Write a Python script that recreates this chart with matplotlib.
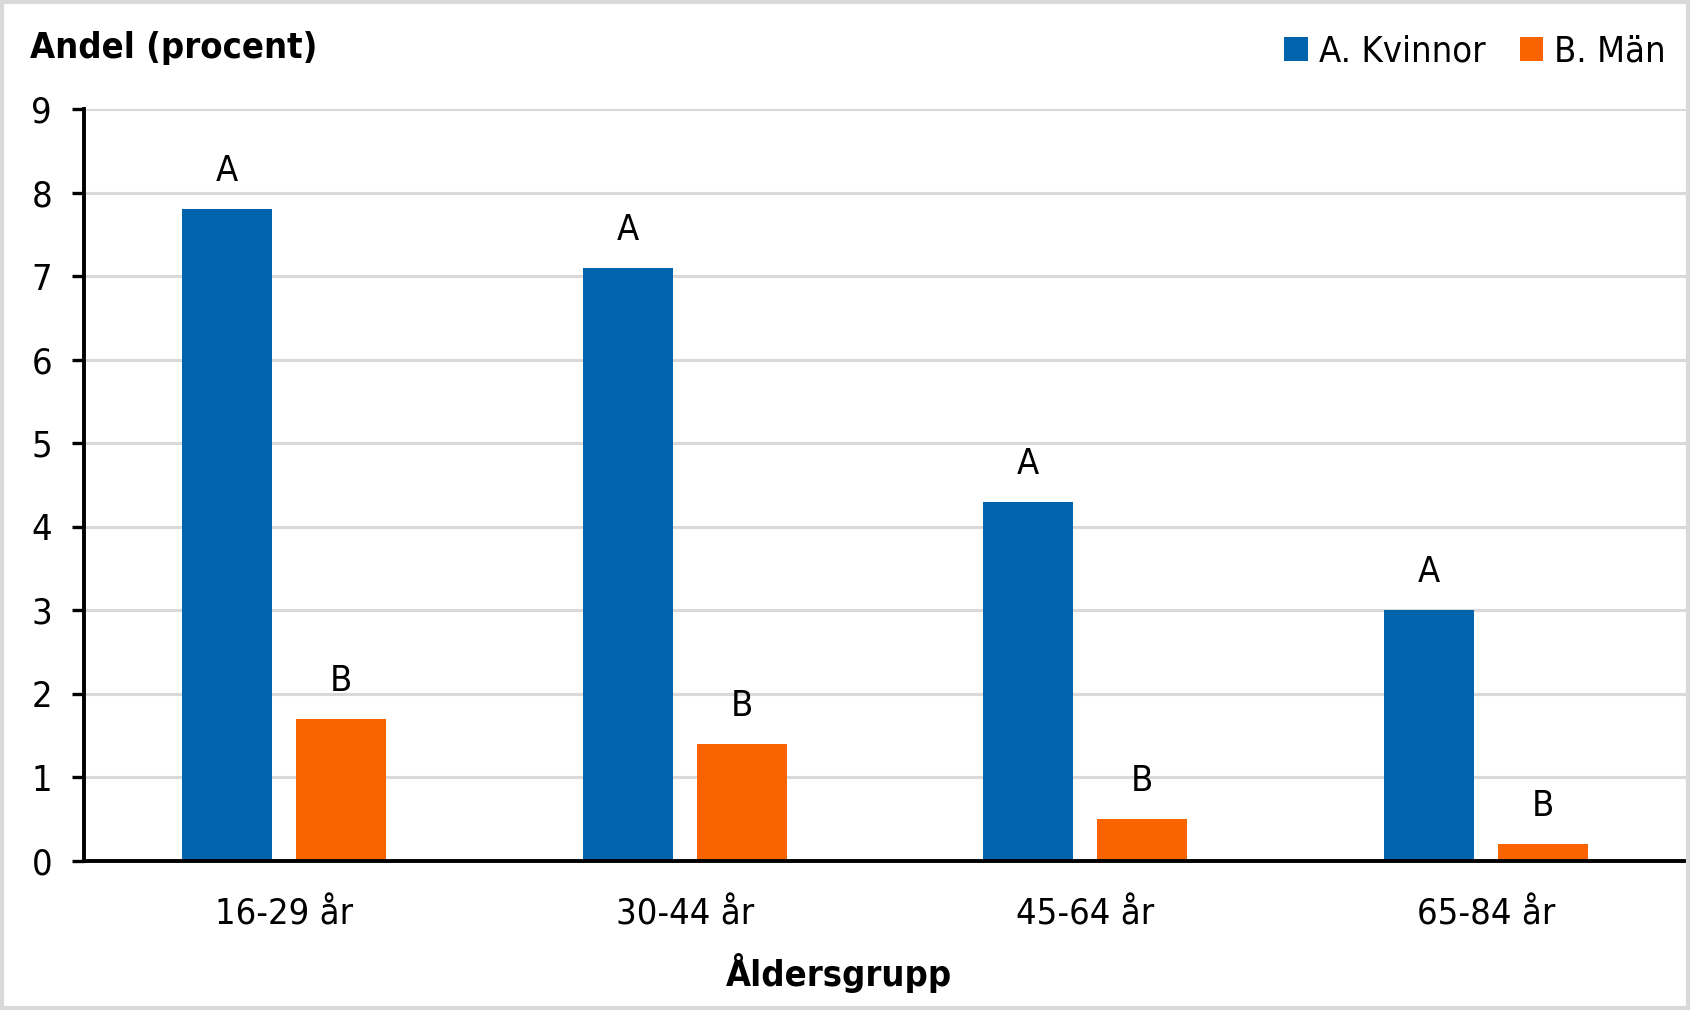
import matplotlib
matplotlib.use("Agg")
import matplotlib.pyplot as plt
import numpy as np
from matplotlib.patches import Rectangle

categories = ["16-29 år", "30-44 år", "45-64 år", "65-84 år"]
kvinnor = [7.8, 7.1, 4.3, 3.0]
man = [1.7, 1.4, 0.5, 0.2]
kvinnor_labels = ["A", "A", "A", "A"]
man_labels = ["B", "B", "B", "B"]
series_names = ["A. Kvinnor", "B. Män"]
yticks = list(range(0, 10))

BLUE = "#0064AD"
ORANGE = "#FA6400"
GRID = "#D9D9D9"

plt.rcParams["font.family"] = ["DejaVu Sans"]
plt.rcParams["font.stretch"] = "condensed"

fig = plt.figure(figsize=(16.91, 10.10), dpi=100)
ax = fig.add_axes([84 / 1691, (1010 - 861) / 1010, (1686 - 84) / 1691, (861 - 109) / 1010])

x = np.arange(len(categories))
w = 0.225
off = 0.1425
b1 = ax.bar(x - off, kvinnor, w, color=BLUE, label=series_names[0], zorder=3)
b2 = ax.bar(x + off, man, w, color=ORANGE, label=series_names[1], zorder=3)

fs = 26
for rect, lab in zip(b1, kvinnor_labels):
    ax.annotate(lab, (rect.get_x() + rect.get_width() / 2, rect.get_height()),
                xytext=(0, 15), textcoords="offset points", ha="center", va="bottom", fontsize=fs)
for rect, lab in zip(b2, man_labels):
    ax.annotate(lab, (rect.get_x() + rect.get_width() / 2, rect.get_height()),
                xytext=(0, 15), textcoords="offset points", ha="center", va="bottom", fontsize=fs)

ax.set_xlim(-0.5, len(categories) - 0.5)
ax.set_ylim(0, 9)
ax.set_yticks(yticks)
ax.set_yticklabels([str(t) for t in yticks], fontsize=fs)
ax.set_xticks(x)
ax.set_xticklabels(categories, fontsize=fs)
ax.tick_params(axis="x", length=0, pad=26)
ax.tick_params(axis="y", length=9, width=2.4, pad=14, direction="out")

ax.grid(axis="y", color=GRID, linewidth=2.2, zorder=0)
ax.set_axisbelow(True)
for s in ["top", "right"]:
    ax.spines[s].set_visible(False)
for s in ["left", "bottom"]:
    ax.spines[s].set_linewidth(2.8)
    ax.spines[s].set_color("black")
    ax.spines[s].set_zorder(4)

fig.text(30 / 1691, 1 - 48 / 1010, "Andel (procent)", fontsize=fs, fontweight="bold", ha="left", va="center")
fig.text(839 / 1691, 1 - 973 / 1010, "Åldersgrupp", fontsize=fs, fontweight="bold", ha="center", va="center")

leg = fig.legend(handles=[b1, b2], labels=series_names, loc="center right",
                 bbox_to_anchor=(1680 / 1691, 1 - 52 / 1010), ncol=2, frameon=False,
                 fontsize=fs, handlelength=0.65, handleheight=0.65, handletextpad=0.3,
                 columnspacing=0.95, borderaxespad=0)

fig.patches.append(Rectangle((0.001, 0.002), 0.997, 0.996, transform=fig.transFigure,
                             fill=False, edgecolor=GRID, linewidth=3))

fig.savefig("out.png", dpi=100)
